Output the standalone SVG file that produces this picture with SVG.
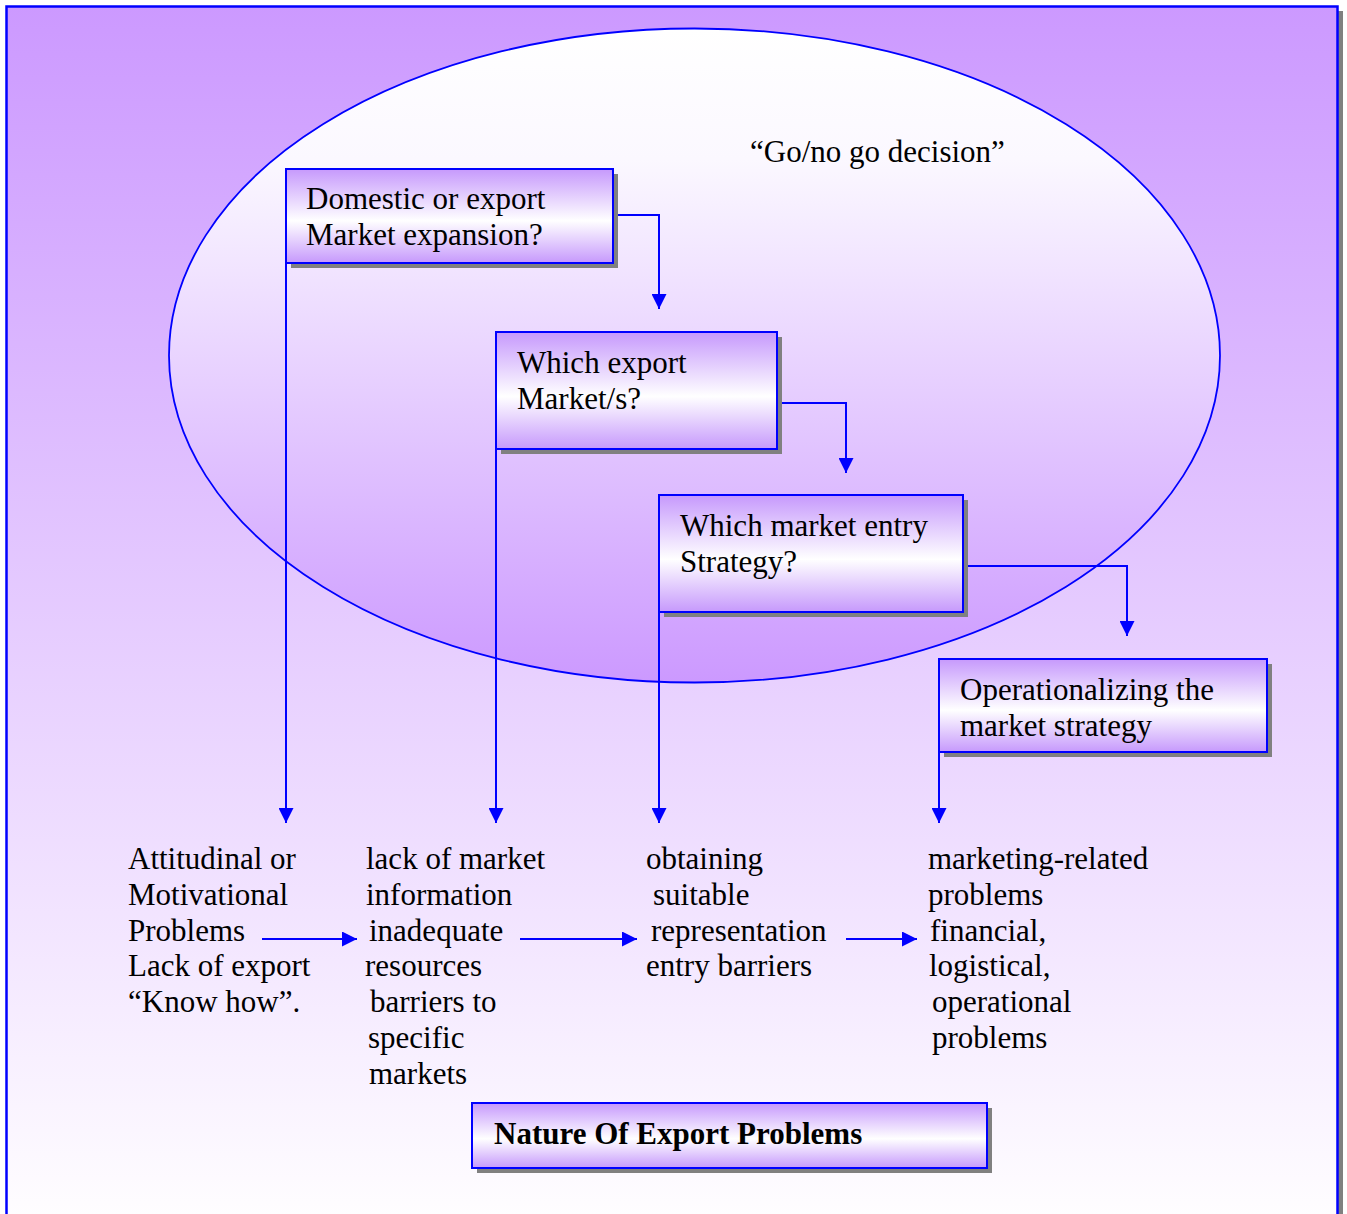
<svg xmlns="http://www.w3.org/2000/svg" width="1347" height="1214" viewBox="0 0 1347 1214">
  <defs>
    <linearGradient id="bg" x1="0" y1="0" x2="0" y2="1">
      <stop offset="0" stop-color="#CC99FF"/>
      <stop offset="1" stop-color="#FFFEFF"/>
    </linearGradient>
    <linearGradient id="oval" x1="0" y1="0" x2="0" y2="1">
      <stop offset="0" stop-color="#FFFFFF"/>
      <stop offset="0.2" stop-color="#FBF8FF"/>
      <stop offset="1" stop-color="#CC99FF"/>
    </linearGradient>
    <linearGradient id="box" x1="0" y1="0" x2="0" y2="1">
      <stop offset="0" stop-color="#C699FC"/>
      <stop offset="0.55" stop-color="#FFFFFF"/>
      <stop offset="1" stop-color="#C699FC"/>
    </linearGradient>
    <marker id="arrow" viewBox="0 0 15 15" refX="15" refY="7.5" markerWidth="15" markerHeight="15" markerUnits="userSpaceOnUse" orient="auto">
      <path d="M0,0 L15,7.5 L0,15 Z" fill="#0000FF"/>
    </marker>
  </defs>
  <style>
    .frame { fill: url(#bg); stroke: #0000FF; stroke-width: 2.5; }
    .shadow { fill: #808080; }
    .box { fill: url(#box); stroke: #0000FF; stroke-width: 2; }
    .txt { font-family: "Liberation Serif", "Times New Roman", serif; font-size: 31px; fill: #000000; }
    .bold { font-weight: bold; }
    .conn { fill: none; stroke: #0000FF; stroke-width: 2; }
  </style>

  <!-- page background -->
  <rect x="0" y="0" width="1347" height="1214" fill="#FFFFFF"/>
  <rect x="1338" y="11" width="5" height="1210" class="shadow"/>
  <rect x="6.5" y="6.5" width="1331" height="1220" class="frame"/>

  <!-- decision oval -->
  <g id="oval-decision">
    <ellipse cx="694.5" cy="355.5" rx="525.5" ry="327" fill="url(#oval)" stroke="#0000FF" stroke-width="1.8"/>
    <text class="txt" x="750" y="162">“Go/no go decision”</text>
  </g>

  <!-- connectors -->
  <g id="connectors">
    <polyline class="conn" points="613,215 659,215 659,309" marker-end="url(#arrow)"/>
    <polyline class="conn" points="777,403 846,403 846,473" marker-end="url(#arrow)"/>
    <polyline class="conn" points="963,566 1127,566 1127,636" marker-end="url(#arrow)"/>
    <line class="conn" x1="286" y1="263" x2="286" y2="823" marker-end="url(#arrow)"/>
    <line class="conn" x1="496" y1="449" x2="496" y2="823" marker-end="url(#arrow)"/>
    <line class="conn" x1="659" y1="612" x2="659" y2="823" marker-end="url(#arrow)"/>
    <line class="conn" x1="939" y1="752" x2="939" y2="823" marker-end="url(#arrow)"/>
    <line class="conn" x1="262" y1="939" x2="357" y2="939" marker-end="url(#arrow)"/>
    <line class="conn" x1="520" y1="939" x2="637" y2="939" marker-end="url(#arrow)"/>
    <line class="conn" x1="846" y1="939" x2="917" y2="939" marker-end="url(#arrow)"/>
  </g>

  <!-- question boxes -->
  <g id="box-expansion">
    <rect x="291" y="174" width="327" height="94" class="shadow"/>
    <rect x="286" y="169" width="327" height="94" class="box"/>
    <text class="txt" x="306" y="209">Domestic or export</text>
    <text class="txt" x="306" y="245">Market expansion?</text>
  </g>
  <g id="box-markets">
    <rect x="501" y="337" width="281" height="117" class="shadow"/>
    <rect x="496" y="332" width="281" height="117" class="box"/>
    <text class="txt" x="517" y="373">Which export</text>
    <text class="txt" x="517" y="409">Market/s?</text>
  </g>
  <g id="box-entry">
    <rect x="664" y="500" width="304" height="117" class="shadow"/>
    <rect x="659" y="495" width="304" height="117" class="box"/>
    <text class="txt" x="680" y="536">Which market entry</text>
    <text class="txt" x="680" y="572">Strategy?</text>
  </g>
  <g id="box-operational">
    <rect x="944" y="664" width="328" height="93" class="shadow"/>
    <rect x="939" y="659" width="328" height="93" class="box"/>
    <text class="txt" x="960" y="700">Operationalizing the</text>
    <text class="txt" x="960" y="736">market strategy</text>
  </g>

  <!-- problem lists -->
  <g id="problems-attitudinal">
    <text class="txt" x="128" y="869">Attitudinal or</text>
    <text class="txt" x="128" y="905">Motivational</text>
    <text class="txt" x="128" y="941">Problems</text>
    <text class="txt" x="128" y="976">Lack of export</text>
    <text class="txt" x="128" y="1012">“Know how”.</text>
  </g>
  <g id="problems-information">
    <text class="txt" x="366" y="869">lack of market</text>
    <text class="txt" x="366" y="905">information</text>
    <text class="txt" x="369" y="941">inadequate</text>
    <text class="txt" x="365" y="976">resources</text>
    <text class="txt" x="370" y="1012">barriers to</text>
    <text class="txt" x="368" y="1048">specific</text>
    <text class="txt" x="369" y="1084">markets</text>
  </g>
  <g id="problems-representation">
    <text class="txt" x="646" y="869">obtaining</text>
    <text class="txt" x="653" y="905">suitable</text>
    <text class="txt" x="651" y="941">representation</text>
    <text class="txt" x="646" y="976">entry barriers</text>
  </g>
  <g id="problems-marketing">
    <text class="txt" x="928" y="869">marketing-related</text>
    <text class="txt" x="928" y="905">problems</text>
    <text class="txt" x="930" y="941">financial,</text>
    <text class="txt" x="929" y="976">logistical,</text>
    <text class="txt" x="932" y="1012">operational</text>
    <text class="txt" x="932" y="1048">problems</text>
  </g>

  <!-- title -->
  <g id="title">
    <rect x="477" y="1108" width="515" height="65" class="shadow"/>
    <rect x="472" y="1103" width="515" height="65" class="box"/>
    <text class="txt bold" x="494" y="1144">Nature Of Export Problems</text>
  </g>
</svg>
